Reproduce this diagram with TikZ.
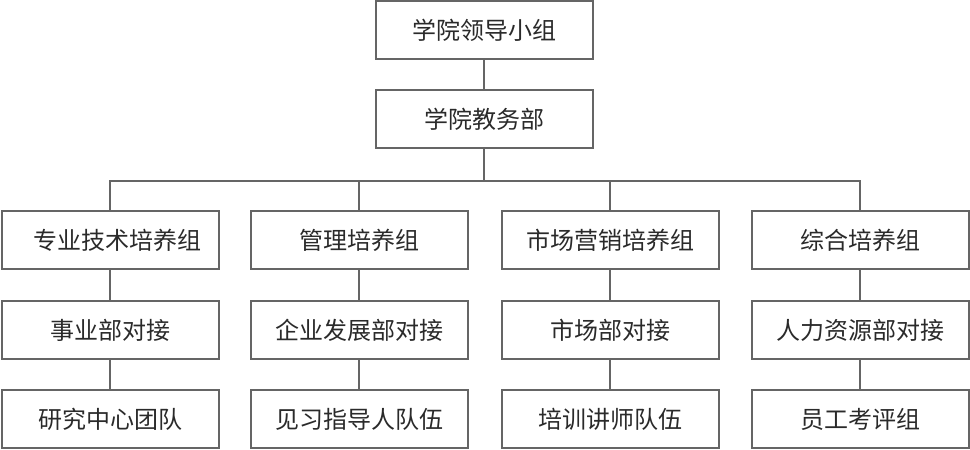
\documentclass[tikz,border=0pt]{standalone}
\usepackage{fontspec}
\newfontfamily\cjk{Noto Sans CJK SC}
\usepackage{tikz}
\definecolor{linegray}{HTML}{656565}
\definecolor{textgray}{HTML}{2A2A2A}
\tikzset{
  orgbox/.style={draw=linegray, line width=2pt, minimum width=217pt, minimum height=58pt,
    inner sep=0pt, text=textgray, font=\cjk\fontsize{24}{24}\selectfont},
  link/.style={draw=linegray, line width=2pt}
}

\begin{document}
\begin{tikzpicture}[x=1pt,y=-1pt]
  \useasboundingbox (0,0) rectangle (970,450);
  % top of the chart
  \node[orgbox] (lead) at (484,30) {学院领导小组};
  \node[orgbox] (office) at (484,119) {学院教务部};
  % groups
  \node[orgbox] (tech) at (110,240) {\hspace*{15pt}专业技术培养组};
  \node[orgbox] (mgmt) at (359,240) {管理培养组};
  \node[orgbox] (mkt) at (610,240) {市场营销培养组};
  \node[orgbox] (gen) at (860,240) {综合培养组};
  % liaison row
  \node[orgbox] (techA) at (110,330) {事业部对接};
  \node[orgbox] (mgmtA) at (359,330) {企业发展部对接};
  \node[orgbox] (mktA) at (610,330) {市场部对接};
  \node[orgbox] (genA) at (860,330) {人力资源部对接};
  % teams
  \node[orgbox] (techB) at (110,419) {研究中心团队};
  \node[orgbox] (mgmtB) at (359,419) {见习指导人队伍};
  \node[orgbox] (mktB) at (610,419) {培训讲师队伍};
  \node[orgbox] (genB) at (860,419) {员工考评组};
  \coordinate (bus) at (484,181);
  \draw[link] (lead) -- (office);
  \draw[link] (office) -- (bus);
  \draw[link] (tech.north) |- (bus) -| (gen.north);
  \draw[link] (mgmt.north) -- (mgmt.north |- bus);
  \draw[link] (mkt.north) -- (mkt.north |- bus);
  \draw[link] (tech) -- (techA);
  \draw[link] (techA) -- (techB);
  \draw[link] (mgmt) -- (mgmtA);
  \draw[link] (mgmtA) -- (mgmtB);
  \draw[link] (mkt) -- (mktA);
  \draw[link] (mktA) -- (mktB);
  \draw[link] (gen) -- (genA);
  \draw[link] (genA) -- (genB);
\end{tikzpicture}
\end{document}
